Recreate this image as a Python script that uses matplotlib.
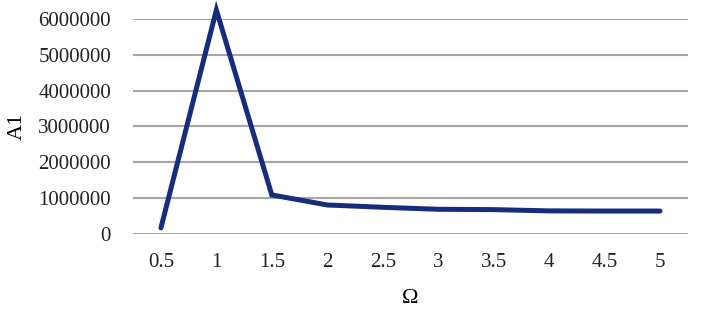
import numpy as np
import matplotlib.pyplot as plt

plt.rcParams['font.family'] = ['Liberation Serif', 'DejaVu Serif']

omega = ['0.5', '1', '1.5', '2', '2.5', '3', '3.5', '4', '4.5', '5']
a1 = [170000, 6250000, 1090000, 810000, 745000, 690000, 680000, 645000, 640000, 640000]
y_ticks = [0, 1000000, 2000000, 3000000, 4000000, 5000000, 6000000]

fig = plt.figure(figsize=(7.01, 3.11), dpi=100)
ax = fig.add_axes([0.19, 0.2476, 0.791, 0.6914])

x = np.arange(len(omega))
for yt in y_ticks:
    ax.axhline(yt, color='#a6a6a6', linewidth=1.5, zorder=1)
ax.plot(x, a1, color='#162c7c', linewidth=3.6, solid_joinstyle='miter',
        solid_capstyle='round', clip_on=False, zorder=3)

ax.set_xlim(-0.5, len(omega) - 0.5)
ax.set_ylim(0, 6000000)
ax.set_xticks(x)
ax.set_xticklabels(omega)
ax.set_yticks(y_ticks)
ax.set_yticklabels([str(v) for v in y_ticks])
ax.tick_params(length=0, labelsize=15, colors='#222222', pad=14)
ax.tick_params(axis='y', pad=16)
for s in ax.spines.values():
    s.set_visible(False)

ax.set_xlabel('Ω', fontsize=16, labelpad=12)
ax.set_ylabel('A1', fontsize=16, labelpad=8)

fig.savefig('out.png', dpi=100)
